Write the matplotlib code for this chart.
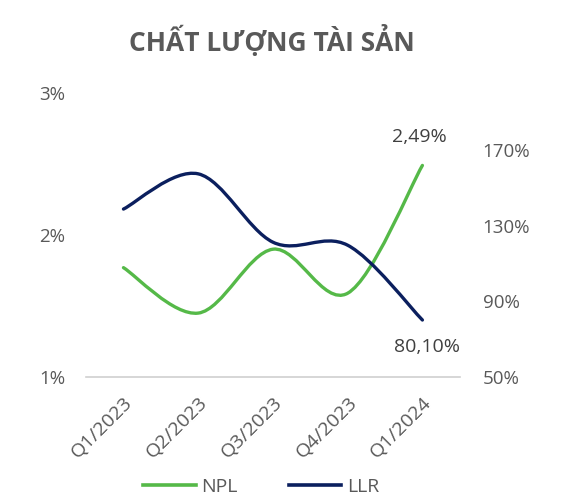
import matplotlib
matplotlib.use("Agg")
import matplotlib.pyplot as plt
import numpy as np
from matplotlib.path import Path
from matplotlib.patches import PathPatch
from matplotlib.lines import Line2D

plt.rcParams['font.family'] = ['Open Sans', 'DejaVu Sans']

quarters = ["Q1/2023", "Q2/2023", "Q3/2023", "Q4/2023", "Q1/2024"]
npl = [1.77, 1.45, 1.90, 1.59, 2.49]      # %
llr = [138.7, 157.3, 121.2, 119.6, 80.1]  # %

GREEN = "#55B948"
NAVY = "#0B1F5E"
GREY = "#595959"


def smooth_path(xs, ys):
    # Catmull-Rom style bezier through the points (like a smoothed office line)
    p = np.column_stack([xs, ys]).astype(float)
    ext = np.vstack([p[0], p, p[-1]])
    verts = [tuple(p[0])]
    codes = [Path.MOVETO]
    for i in range(len(p) - 1):
        p0, p1, p2, p3 = ext[i], ext[i + 1], ext[i + 2], ext[i + 3]
        c1 = p1 + (p2 - p0) / 6
        c2 = p2 - (p3 - p1) / 6
        verts += [tuple(c1), tuple(c2), tuple(p2)]
        codes += [Path.CURVE4] * 3
    return Path(verts, codes)


fig = plt.figure(figsize=(5.74, 5.0), dpi=100)
ax = fig.add_axes([0.150, 0.246, 0.651, 0.568])
ax2 = ax.twinx()

x = np.arange(len(quarters))

ax.add_patch(PathPatch(smooth_path(x, npl), facecolor="none", edgecolor=GREEN,
                       lw=2.4, capstyle="round", zorder=3))
ax2.add_patch(PathPatch(smooth_path(x, llr), facecolor="none", edgecolor=NAVY,
                        lw=2.4, capstyle="round", zorder=3))

ax.set_xlim(-0.5, len(quarters) - 0.5)
ax.set_ylim(1, 3)
ax2.set_ylim(50, 200)
ax.set_yticks([1, 2, 3])
ax.set_yticklabels([f"{v}%" for v in [1, 2, 3]])
ax2.set_yticks([50, 90, 130, 170])
ax2.set_yticklabels([f"{v}%" for v in [50, 90, 130, 170]])

ax.set_xticks(x)
ax.set_xticklabels(quarters, rotation=45, ha="right", rotation_mode="anchor")

for a in (ax, ax2):
    for s in a.spines.values():
        s.set_visible(False)
    a.tick_params(length=0, labelsize=13.5, colors=GREY)
ax.tick_params(axis="y", pad=15)
ax2.tick_params(axis="y", pad=16.5)
ax.tick_params(axis="x", pad=12, labelsize=14)
ax.spines["bottom"].set_visible(True)
ax.spines["bottom"].set_color("#D0D0D0")
ax.spines["bottom"].set_linewidth(1.2)

ax.annotate("2,49%", (x[-1], npl[-1]), xytext=(-2, 14), textcoords="offset points",
            ha="center", va="bottom", fontsize=14, color="#404040")
ax2.annotate("80,10%", (x[-1], llr[-1]), xytext=(3, -13), textcoords="offset points",
             ha="center", va="top", fontsize=14, color="#404040")

fig.text(0.474, 0.918, "CHẤT LƯỢNG TÀI SẢN", ha="center", va="center",
         fontsize=19, fontweight="bold", color=GREY)

handles = [Line2D([], [], color=GREEN, lw=2.6), Line2D([], [], color=NAVY, lw=2.6)]
fig.legend(handles, ["NPL", "LLR"], loc="center", bbox_to_anchor=(0.455, 0.026),
           ncol=2, frameon=False, fontsize=14, labelcolor=GREY,
           handlelength=2.7, columnspacing=2.6, handletextpad=0.3)

fig.savefig("out.png", dpi=100)
